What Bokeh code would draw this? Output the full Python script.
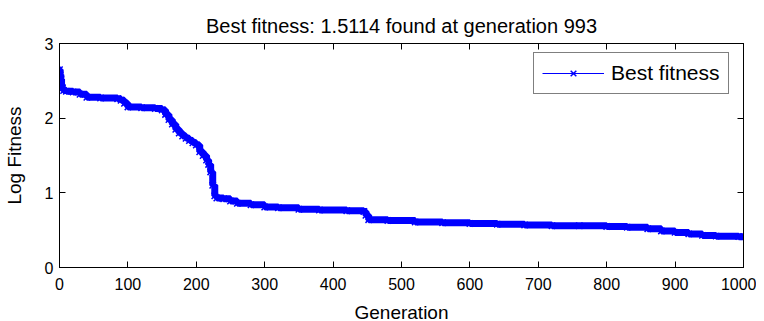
from bokeh.plotting import figure
from bokeh.models import LinearAxis, FixedTicker, Legend, LegendItem, ColumnDataSource
from bokeh.embed import file_html
from bokeh.resources import INLINE

# generations at which the best (log) fitness changes, and the value held from there on
generation = [0, 1, 2, 3, 4, 6, 10, 20, 30, 40, 60, 85, 90, 95, 100, 120, 140, 150,
              155, 160, 165, 170, 175, 180, 185, 190, 195, 200, 205, 210, 215, 218,
              221, 224, 227, 230, 240, 250, 260, 280, 300, 320, 350, 380, 420, 445,
              448, 452, 480, 520, 560, 600, 640, 680, 720, 760, 800, 830, 860, 880,
              900, 920, 940, 960, 993, 1000]
log_fitness = [2.65, 2.58, 2.52, 2.45, 2.40, 2.37, 2.36, 2.35, 2.32, 2.28, 2.27, 2.26,
               2.24, 2.20, 2.15, 2.14, 2.13, 2.11, 2.05, 1.98, 1.92, 1.85, 1.80, 1.76,
               1.73, 1.70, 1.67, 1.64, 1.55, 1.50, 1.44, 1.38, 1.28, 1.10, 0.96, 0.93,
               0.92, 0.89, 0.86, 0.84, 0.81, 0.80, 0.78, 0.77, 0.76, 0.75, 0.70, 0.64,
               0.63, 0.61, 0.60, 0.59, 0.58, 0.57, 0.56, 0.56, 0.55, 0.54, 0.52, 0.49,
               0.47, 0.45, 0.43, 0.42, 0.413, 0.413]
x_ticks = [0, 100, 200, 300, 400, 500, 600, 700, 800, 900, 1000]
y_ticks = [0, 1, 2, 3]
title_text = "Best fitness: 1.5114 found at generation 993"
series_name = "Best fitness"

FONT = "Liberation Sans"
BLUE = "#0000FF"

src = ColumnDataSource(data=dict(g=generation, f=log_fitness))

p = figure(frame_width=684, frame_height=224, x_range=(0, 1000), y_range=(0, 3),
           output_backend="svg", toolbar_location=None,
           min_border_left=59, min_border_right=13, min_border_top=43, min_border_bottom=54,
           title=title_text, x_axis_label="Generation", y_axis_label="Log Fitness")
p.background_fill_color = "white"
p.border_fill_color = "white"
p.outline_line_color = "black"
p.grid.visible = False

p.title.align = "center"
p.title.text_font = FONT
p.title.text_font_size = "20px"
p.title.text_font_style = "normal"
p.title.text_color = "black"
p.title.vertical_align = "top"
p.title.standoff = 10

band = p.step("g", "f", source=src, mode="after", line_color=BLUE, line_width=7)
thin = p.step("g", "f", source=src, mode="after", line_color=BLUE, line_width=1)
marks = p.scatter("g", "f", source=src, marker="x", size=9, line_color=BLUE, line_width=1.5)

for ax in (p.xaxis[0], p.yaxis[0]):
    ax.major_tick_in = 6
    ax.major_tick_out = 0
    ax.minor_tick_line_color = None
    ax.axis_line_color = "black"
    ax.major_tick_line_color = "black"
    ax.major_label_text_font = FONT
    ax.major_label_text_font_size = "16px"
    ax.major_label_text_color = "black"
    ax.axis_label_text_font = FONT
    ax.axis_label_text_font_size = "19px"
    ax.axis_label_text_font_style = "normal"
    ax.axis_label_text_color = "black"

p.xaxis[0].ticker = FixedTicker(ticks=x_ticks)
p.yaxis[0].ticker = FixedTicker(ticks=y_ticks)
p.xaxis[0].major_label_standoff = 10
p.xaxis[0].axis_label_standoff = 9
p.yaxis[0].major_label_standoff = 6
p.yaxis[0].axis_label_standoff = 17

top = LinearAxis(ticker=FixedTicker(ticks=x_ticks))
right = LinearAxis(ticker=FixedTicker(ticks=y_ticks))
for ax in (top, right):
    ax.major_tick_in = 6
    ax.major_tick_out = 0
    ax.minor_tick_line_color = None
    ax.axis_line_color = "black"
    ax.major_label_text_font_size = "0px"
    ax.major_label_standoff = 0
    ax.major_label_text_color = None
p.add_layout(top, "above")
p.add_layout(right, "right")

legend = Legend(items=[LegendItem(label=series_name, renderers=[thin, marks])],
                location=(474, 173))
legend.border_line_color = "black"
legend.border_line_width = 1
legend.background_fill_color = "white"
legend.background_fill_alpha = 1.0
legend.padding = 8
legend.margin = 0
legend.spacing = 0
legend.glyph_width = 62
legend.glyph_height = 20
legend.label_standoff = 7
legend.label_text_font = FONT
legend.label_text_font_size = "21px"
legend.label_text_color = "black"
p.add_layout(legend, "center")

open("out.html", "w").write(file_html(p, INLINE))
